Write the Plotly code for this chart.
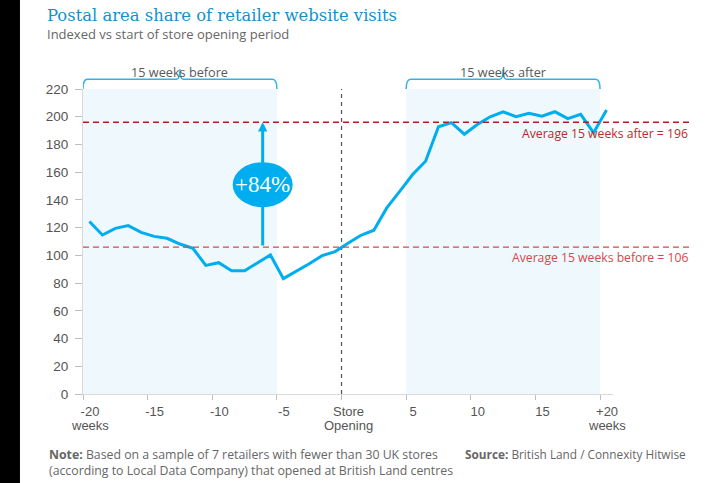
import plotly.graph_objects as go

# ---- data ----
weeks = [-19.5, -18.5, -17.5, -16.5, -15.5, -14.5, -13.5, -12.5, -11.5, -10.5,
         -9.5, -8.5, -7.5, -6.5, -5.5, -4.5, -3.5, -2.5, -1.5, -0.5,
         0.5, 1.5, 2.5, 3.5, 4.5, 5.5, 6.5, 7.5, 8.5, 9.5,
         10.5, 11.5, 12.5, 13.5, 14.5, 15.5, 16.5, 17.5, 18.5, 19.5, 20.5]
index_values = [124.4, 114.7, 119.5, 121.5, 116.6, 113.7, 112.3, 108.2, 105.1, 92.8,
                94.7, 88.9, 88.9, 94.5, 100.3, 83.2, 88.4, 94.0, 99.8, 102.7,
                108.8, 114.5, 118.1, 134.2, 146.2, 158.3, 167.9, 192.8, 195.7, 187.4,
                194.4, 200.0, 203.6, 200.0, 202.4, 200.4, 203.6, 198.6, 201.7, 188.4, 204.8]
avg_before = 106
avg_after = 196
before_period = [-20, -5]
after_period = [5, 20]
x_tick_vals = [-20, -15, -10, -5, 0, 5, 10, 15, 20]
x_tick_text = ["-20", "-15", "-10", "-5", "Store", "5", "10", "15", "+20"]
x_tick_sub_vals = [-20, 0, 20]
x_tick_sub_text = ["weeks", "Opening", "weeks"]
y_tick_vals = [0, 20, 40, 60, 80, 100, 120, 140, 160, 180, 200, 220]
uplift_label = "+84%"
uplift_x = -6.1

BLUE = "#00adef"
SANS = "Open Sans"
AXF = "Liberation Sans"
SERIF = "Liberation Serif"

fig = go.Figure()
fig.add_trace(go.Scatter(x=weeks, y=index_values, mode="lines",
                         line=dict(color=BLUE, width=3), hoverinfo="skip",
                         showlegend=False))

shapes = []
# black strip at the left edge of the picture
shapes.append(dict(type="rect", xref="paper", yref="paper", x0=-0.1572, x1=-0.1189,
                   y0=-0.3, y1=1.3, fillcolor="black", line=dict(width=0), layer="above"))
# average lines (paper-x so they reach beyond the plot)
shapes.append(dict(type="line", xref="paper", yref="y", x0=0, x1=1.146, y0=avg_after, y1=avg_after,
                   line=dict(color="#b01e23", width=1.3, dash="6px,4px"), layer="above"))
shapes.append(dict(type="line", xref="paper", yref="y", x0=0, x1=1.146, y0=avg_before, y1=avg_before,
                   line=dict(color="#cf4a4a", width=1.3, dash="6px,4px"), layer="above"))
# shaded periods
for p in (before_period, after_period):
    shapes.append(dict(type="rect", xref="x", yref="y", x0=p[0], x1=p[1], y0=0, y1=220,
                       fillcolor="#eff8fd", line=dict(width=0), layer="below"))
# store opening line
shapes.append(dict(type="line", xref="x", yref="y", x0=0, x1=0, y0=0, y1=220,
                   line=dict(color="#555555", width=1.2, dash="4px,4px"), layer="below"))
# brackets
base, lvl, top, rx = 1.0, 1.032, 1.065, 0.35
for p in (before_period, after_period):
    a, b = p
    m = (a + b) / 2
    path = (f"M {a},{base} Q {a},{lvl} {a+rx},{lvl} L {m-0.25},{lvl} Q {m},{lvl} {m},{top} "
            f"Q {m},{lvl} {m+0.25},{lvl} L {b-rx},{lvl} Q {b},{lvl} {b},{base}")
    shapes.append(dict(type="path", xref="x", yref="paper", path=path,
                       line=dict(color="#2cb4ea", width=1.5)))
# ellipse
shapes.append(dict(type="circle", xref="x", yref="y", xsizemode="pixel", ysizemode="pixel",
                   xanchor=uplift_x, yanchor=151, x0=-30, x1=30, y0=-22.5, y1=22.5,
                   fillcolor=BLUE, line=dict(width=0), layer="above"))

annotations = [
    dict(xref="paper", yref="paper", x=-0.0717, y=1.24, xanchor="left", yanchor="middle",
         text="Postal area share of retailer website visits", showarrow=False,
         font=dict(family="DejaVu Serif", size=16.4, color="#1591c7")),
    dict(xref="paper", yref="paper", x=-0.0717, y=1.181, xanchor="left", yanchor="middle",
         text="Indexed vs start of store opening period", showarrow=False,
         font=dict(family=SANS, size=13, color="#666666")),
    dict(xref="x", yref="paper", x=-12.5, y=1.092, text="15 weeks before", showarrow=False,
         font=dict(family=SANS, size=12.7, color="#595959")),
    dict(xref="x", yref="paper", x=12.5, y=1.092, text="15 weeks after", showarrow=False,
         font=dict(family=SANS, size=12.7, color="#595959")),
    dict(xref="paper", yref="y", x=1.146, y=188, xanchor="right", yanchor="middle",
         text=f"Average 15 weeks after = {avg_after}", showarrow=False,
         font=dict(family=SANS, size=12.2, color="#b82a2e")),
    dict(xref="paper", yref="y", x=1.146, y=98.6, xanchor="right", yanchor="middle",
         text=f"Average 15 weeks before = {avg_before}", showarrow=False,
         font=dict(family=SANS, size=12.2, color="#d04b4b")),
    dict(xref="x", yref="y", x=uplift_x, y=avg_after, ax=uplift_x, ay=avg_before,
         axref="x", ayref="y", text="", showarrow=True, arrowhead=2, arrowsize=0.62,
         arrowwidth=3, arrowcolor=BLUE, standoff=0, startstandoff=0),
    dict(xref="x", yref="y", x=uplift_x, y=151, text=uplift_label, showarrow=False,
         font=dict(family=SERIF, size=23, color="white")),
    dict(xref="paper", yref="paper", x=-0.068, y=-0.165, xanchor="left", yanchor="top",
         align="left", showarrow=False,
         text="<b>Note:</b> Based on a sample of 7 retailers with fewer than 30 UK stores<br>"
              "(according to Local Data Company) that opened at British Land centres",
         font=dict(family=SANS, size=12.3, color="#666666")),
    dict(xref="paper", yref="paper", x=1.1415, y=-0.165, xanchor="right", yanchor="top",
         align="right", showarrow=False,
         text="<b>Source:</b> British Land / Connexity Hitwise",
         font=dict(family=SANS, size=11.8, color="#666666")),
]
for xv, txt in zip(x_tick_sub_vals, x_tick_sub_text):
    annotations.append(dict(xref="x", yref="paper", x=xv, xshift=7, y=-0.103,
                            yanchor="middle", text=txt, showarrow=False, borderpad=0,
                            font=dict(family=AXF, size=13, color="#555555")))

fig.update_layout(
    width=710, height=483,
    margin=dict(l=83, r=97, t=89, b=89),
    paper_bgcolor="white", plot_bgcolor="white",
    shapes=shapes, annotations=annotations, showlegend=False,
    xaxis=dict(range=[-20, 21], tickmode="array", tickvals=x_tick_vals, ticktext=x_tick_text,
               showgrid=False, zeroline=False, showline=True, linecolor="#d9d9d9", linewidth=1,
               ticks="outside", ticklen=5, tickcolor="#bfbfbf", ticklabelshift=7,
               tickfont=dict(family=AXF, size=13, color="#555555")),
    yaxis=dict(range=[0, 220], tickmode="array", tickvals=y_tick_vals,
               showgrid=False, zeroline=False, showline=True, linecolor="#d9d9d9", linewidth=1,
               ticks="outside", ticklen=7, tickcolor="#bfbfbf", ticklabelstandoff=4,
               tickfont=dict(family=AXF, size=13.5, color="#555555")),
)

fig.write_html("out.html", config={"displayModeBar": False},
               post_script="document.body.style.margin='0';document.body.style.overflow='hidden';")
